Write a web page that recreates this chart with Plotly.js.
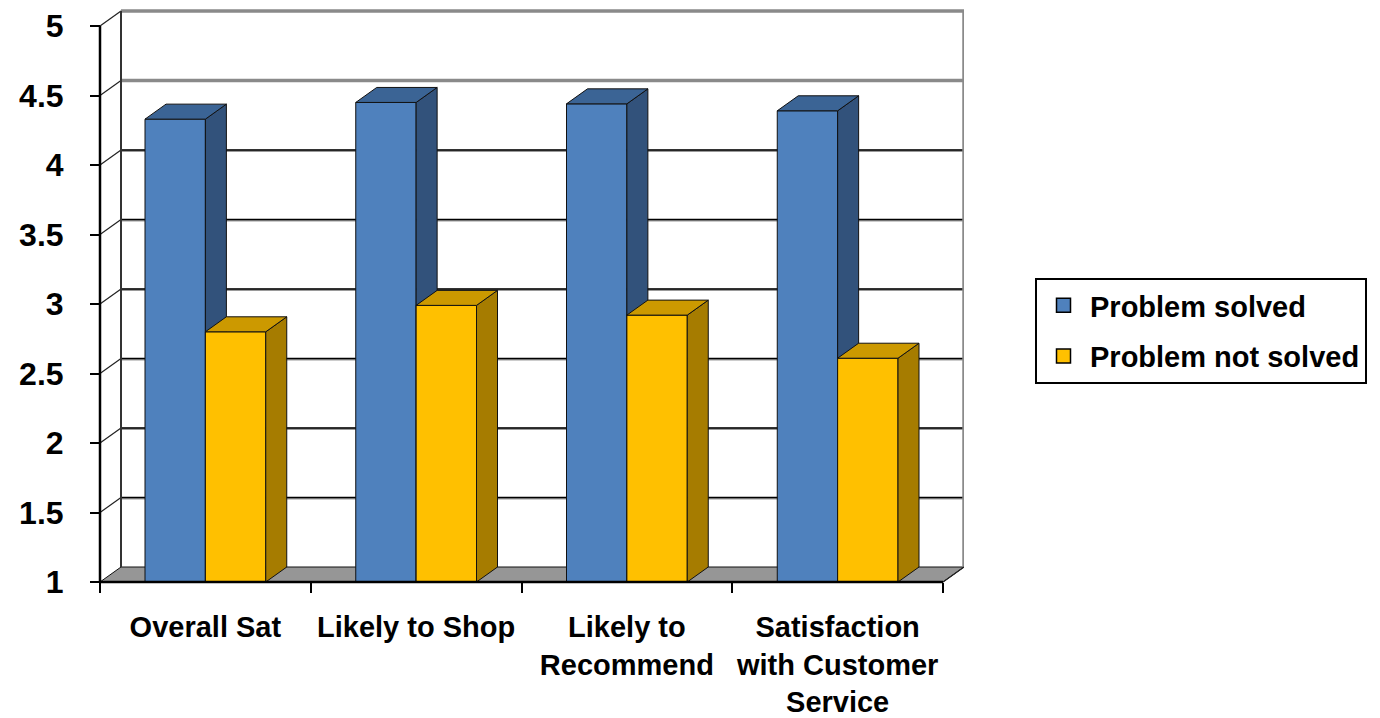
<!DOCTYPE html>
<html>
<head>
<meta charset="utf-8">
<script src="https://cdn.plot.ly/plotly-3.0.1.min.js"></script>
<style>html,body{margin:0;padding:0;background:#fff;}#chart{width:1380px;height:718px;}</style>
</head>
<body>
<div id="chart"></div>
<script>
// ---- data ----
const categories = ['Overall Sat', 'Likely to Shop', 'Likely to<br>Recommend', 'Satisfaction<br>with Customer<br>Service'];
const seriesNames = ['Problem solved', 'Problem not solved'];
const solved = [4.33, 4.45, 4.44, 4.39];
const notSolved = [2.80, 2.99, 2.92, 2.61];
const yTickVals = [1, 1.5, 2, 2.5, 3, 3.5, 4, 4.5, 5];
const yTickText = ['1', '1.5', '2', '2.5', '3', '3.5', '4', '4.5', '5'];

// ---- geometry (pseudo-3D) ----
const PX = 210.75, PY = 139;          // px per data unit
const DX = 21 / PX, DY = 15 / PY;      // depth offset in data units
const X0 = -4 / PX, Y0 = 1 - 4 / PY;
const YMIN = yTickVals[0], YMAX = yTickVals[yTickVals.length - 1];
const YTOP = YMAX + DY + 4 / PY;
const NCAT = categories.length;
const FONT = 'Arial, "Liberation Sans", sans-serif';

const C = {
  blue: {front: '#4F81BD', top: '#3B6495', side: '#32527B'},
  gold: {front: '#FFC000', top: '#CC9900', side: '#A67C00'}
};

function barFaces(vals, a, b) {
  const f = {x: [], y: []}, s = {x: [], y: []}, t = {x: [], y: []};
  vals.forEach((v, i) => {
    const x0 = i + a, x1 = i + b;
    f.x.push(x0, x1, x1, x0, x0, null); f.y.push(YMIN, YMIN, v, v, YMIN, null);
    s.x.push(x1, x1 + DX, x1 + DX, x1, x1, null); s.y.push(YMIN, YMIN + DY, v + DY, v, YMIN, null);
    t.x.push(x0, x1, x1 + DX, x0 + DX, x0, null); t.y.push(v, v, v + DY, v + DY, v, null);
  });
  return [f, s, t];
}
function poly(p, fill, lw) {
  return {type: 'scatter', mode: 'lines', x: p.x, y: p.y, fill: 'toself', fillcolor: fill,
          line: {color: '#111', width: lw === undefined ? 1 : lw}, hoverinfo: 'skip', showlegend: false};
}
function lines(xs, ys, color, width) {
  return {type: 'scatter', mode: 'lines', x: xs, y: ys, line: {color: color, width: width},
          hoverinfo: 'skip', showlegend: false};
}

const traces = [];
// floor
traces.push(poly({x: [0, NCAT, NCAT + DX, DX, 0], y: [YMIN, YMIN, YMIN + DY, YMIN + DY, YMIN]}, '#969696', 1));
// back-wall gridlines
const gx = [], gy = [], gx2 = [], gy2 = [], sx = [], sy = [];
yTickVals.slice(1).forEach(v => {
  if (v >= 4.5) { gx2.push(DX, NCAT + DX, null); gy2.push(v + DY, v + DY, null); }
  else { gx.push(DX, NCAT + DX, null); gy.push(v + DY, v + DY, null); }
  sx.push(0, DX, null); sy.push(v, v + DY, null);
});
traces.push(lines(gx, gy.map(v => v === null ? null : v - 0.006), '#9a9a9a', 2.5));
traces.push(lines(gx, gy, '#000', 1.6));
traces.push(lines(gx2, gy2, '#8a8a8a', 3.5));
traces.push(lines(sx, sy, '#222', 1.2));
// back wall edges
traces.push(lines([DX, DX], [YMIN + DY, YMAX + DY], '#333', 2));
traces.push(lines([NCAT + DX, NCAT + DX], [YMIN + DY, YMAX + DY], '#8a8a8a', 3.5));
traces.push(lines([NCAT, NCAT + DX], [YMIN, YMIN + DY], '#222', 1.2));
// bars
const [bf, bs, bt] = barFaces(solved, 0.2135, 0.5);
traces.push(poly(bf, C.blue.front), poly(bs, C.blue.side), poly(bt, C.blue.top));
const [yf, ys, yt] = barFaces(notSolved, 0.5, 0.7865);
traces.push(poly(yf, C.gold.front), poly(ys, C.gold.side), poly(yt, C.gold.top));
// front axis lines
traces.push(lines([0, NCAT], [YMIN, YMIN], '#000', 2.5));
traces.push(lines([0, 0], [YMIN, YMAX], '#000', 2.5));
// legend entries
[[seriesNames[0], C.blue.front], [seriesNames[1], C.gold.front]].forEach((d, i) => {
  traces.push({type: 'scatter', mode: 'markers', x: [null], y: [null], name: d[0], legendgroup: 'g' + i,
    marker: {symbol: 'square', size: 14, color: d[1], line: {color: '#000', width: 1.5}}, hoverinfo: 'skip'});
});

const plotH = 575 + 4;
const layout = {
  width: 1380, height: 718,
  margin: {l: 96, r: 416, t: 7, b: 132, pad: 0},
  paper_bgcolor: '#fff', plot_bgcolor: '#fff',
  showlegend: true,
  font: {family: FONT, color: '#000', weight: 'bold'},
  xaxis: {
    range: [X0, NCAT + DX], anchor: 'free', position: 4 / plotH,
    tickvals: categories.map((c, i) => i + 0.5), ticktext: categories,
    ticks: '', showgrid: false, zeroline: false, showline: false,
    tickfont: {size: 29, family: FONT, color: '#000', weight: 'bold'},
    ticklabelstandoff: 25,
    minor: {tickvals: [0, 1, 2, 3, 4], ticks: 'outside', ticklen: 10, tickwidth: 2, tickcolor: '#000', showgrid: false},
    fixedrange: true
  },
  yaxis: {
    range: [Y0, YTOP], anchor: 'free', position: 4 / 868,
    tickvals: yTickVals, ticktext: yTickText,
    ticks: 'outside', ticklen: 10, tickwidth: 2, tickcolor: '#000',
    showgrid: false, zeroline: false, showline: false,
    tickfont: {size: 32, family: FONT, color: '#000', weight: 'bold'},
    ticklabelstandoff: 20,
    fixedrange: true
  },
  legend: {
    x: (1035 - 96) / 868, xanchor: 'left', y: (586 - 278) / plotH, yanchor: 'top',
    bordercolor: '#000', borderwidth: 2, bgcolor: '#fff',
    font: {size: 29, family: FONT, color: '#000', weight: 'bold'},
    tracegroupgap: 10, traceorder: 'grouped', itemwidth: 43
  }
};

Plotly.newPlot('chart', traces, layout, {displayModeBar: false, staticPlot: true});
</script>
</body>
</html>
